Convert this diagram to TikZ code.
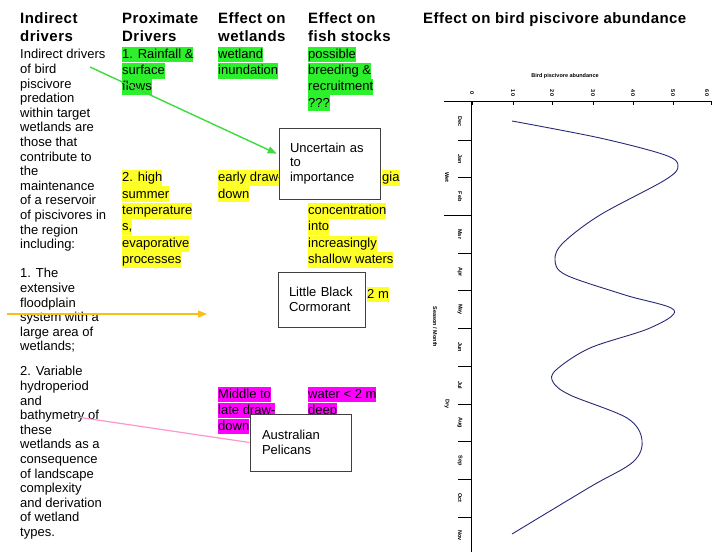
\documentclass[tikz,border=0pt]{standalone}
\usepackage{fontspec}
\setmainfont{Liberation Sans}
\newfontfamily\headfont[LetterSpace=3]{Liberation Sans}
\usetikzlibrary{arrows.meta}

\definecolor{hlgreen}{RGB}{45,240,45}
\definecolor{hlyellow}{RGB}{255,255,40}
\definecolor{hlpink}{RGB}{255,0,255}
\definecolor{arrgreen}{RGB}{60,220,60}
\definecolor{arrorange}{RGB}{250,190,20}
\definecolor{arrpink}{RGB}{255,150,200}
\definecolor{curvecol}{RGB}{40,40,120}

\begin{document}
\begin{tikzpicture}[x=1pt,y=-1pt,
	head/.style={anchor=north west,inner sep=0pt,align=left,font=\headfont\fontsize{15}{18}\selectfont\bfseries},
	txt/.style={anchor=north west,inner sep=0pt,align=left,font=\fontsize{13}{14.6}\selectfont},
	hl/.style={anchor=west,fill=#1,inner xsep=0pt,inner ysep=0.2pt,text height=11.5pt,text depth=4pt,font=\fontsize{13}{14.6}\selectfont},
	bird/.style={draw=black!75,line width=1pt,fill=white,align=left,font=\fontsize{13}{14.6}\selectfont},
	tiny/.style={font=\fontsize{5.5}{6}\selectfont\bfseries,inner sep=0pt}]
	\useasboundingbox (0,0) rectangle (712,552);

	% column heads
	\node[head] (h1) at (20,12) {Indirect\\drivers};
	\node[head] (h2) at (122,12) {Proximate\\Drivers};
	\node[head] (h3) at (218,12) {Effect on\\wetlands};
	\node[head] (h4) at (308,12) {Effect on\\fish stocks};
	\node[head] (h5) at (423,12) {Effect on bird piscivore abundance};

	% indirect drivers
	\node[txt] (ind) at (20,49.2) {Indirect drivers\\of bird\\piscivore\\predation\\within target\\wetlands are\\those that\\contribute to\\the\\maintenance\\of a reservoir\\of piscivores in\\the region\\including:};
	\node[txt] (ind1) at (20,268.2) {1. The\\extensive\\floodplain\\system with a\\large area of\\wetlands;};
	\node[txt] (ind2) at (20,366.2) {2. Variable\\hydroperiod\\and\\bathymetry of\\these\\wetlands as a\\consequence\\of landscape\\complexity\\and derivation\\of wetland\\types.};

	% rainfall
	\foreach \t [count=\i] in {1. Rainfall \&,surface,flows}
		\node[hl=hlgreen] (rain\i) at (122,{54.5+16.3*(\i-1)}) {\t};
	\foreach \t [count=\i] in {wetland,inundation}
		\node[hl=hlgreen] (inun\i) at (218,{54.5+16.3*(\i-1)}) {\t};
	\foreach \t [count=\i] in {possible,breeding \&,recruitment,???}
		\node[hl=hlgreen] (breed\i) at (308,{54.5+16.3*(\i-1)}) {\t};

	% temperature
	\foreach \t [count=\i] in {2. high,summer,temperature,{s,},evaporative,processes}
		\node[hl=hlyellow] (temp\i) at (122,{178+16.4*(\i-1)}) {\t};
	\foreach \t [count=\i] in {early draw-,down}
		\node[hl=hlyellow] (early\i) at (218,{178+16.4*(\i-1)}) {\t};
	\node[hl=hlyellow] (gia) at (382,178) {gia};
	\foreach \t [count=\i] in {concentration,into,increasingly,shallow waters}
		\node[hl=hlyellow] (conc\i) at (308,{210.8+16.4*(\i-1)}) {\t};
	\node[hl=hlyellow] (twom) at (367,294.5) {2 m};

	% late draw-down
	\foreach \t [count=\i] in {Middle to,late draw-,down}
		\node[hl=hlpink] (late\i) at (218,{394.5+16*(\i-1)}) {\t};
	\foreach \t [count=\i] in {water < 2 m,deep}
		\node[hl=hlpink] (deep\i) at (308,{394.5+16*(\i-1)}) {\t};

	% birds
	\node[bird,minimum width=101,minimum height=71,text width=79,inner xsep=11] (unc) at (329.5,163.5) {Uncertain as\\to\\importance};
	\node[bird,minimum width=87,minimum height=55,text width=65,inner xsep=11] (lbc) at (321.5,299.5) {Little Black\\Cormorant};
	\node[bird,minimum width=101,minimum height=57,text width=77,inner xsep=12] (pel) at (300.5,442.5) {Australian\\Pelicans};

	\coordinate (gfrom) at (90,67);
	\coordinate (ofrom) at (7,314);
	\coordinate (oto) at (207,314);
	\coordinate (pfrom) at (77,417);
	\draw[arrgreen,line width=1.4pt,shorten >=2pt,-{Triangle[length=9pt,width=7pt]}] (gfrom) -- (unc.170);
	\draw[arrorange,line width=1.4pt,-{Triangle[length=9pt,width=7pt]}] (ofrom) -- (oto);
	\draw[arrpink,line width=1.2pt] (pfrom) -- (pel.west);

	% abundance chart
	\node[tiny] (ctitle) at (565,76) {Bird piscivore abundance};
	\draw[line width=0.8pt] (444,101) -- (712,101);
	\draw[line width=0.8pt] (471,101) -- (471,552);
	\foreach \x/\v in {472/0,513/10,552/20,593/30,633/40,673/50} {
		\draw[line width=0.6pt] (\x,101) -- (\x,105);
		\node[tiny,rotate=-90] at (\x,93) {\v};
	}
	\draw[line width=0.6pt] (711,101) -- (711,105);
	\node[tiny,rotate=-90] at (707,93) {60};
	\foreach \m [count=\i] in {Dec,Jan,Feb,Mar,Apr,May,Jun,Jul,Aug,Sep,Oct,Nov}
		\node[tiny,rotate=-90] (m\i) at (460,{102.3+37.7*(\i-0.5)}) {\m};
	\foreach \i in {1,2,4,5,6,7,8,9,10,11}
		\draw[line width=0.8pt] (458,{102.3+37.7*\i}) -- (471,{102.3+37.7*\i});
	\draw[line width=0.8pt] (444,{102.3+37.7*3}) -- (471,{102.3+37.7*3});
	\node[tiny,rotate=-90] (wet) at (447,177) {Wet};
	\node[tiny,rotate=-90] (dry) at (447,404) {Dry};
	\node[tiny,rotate=-90] (season) at (435,327) {Season / Month};
	\draw[curvecol,line width=0.9pt] plot[smooth,tension=0.55] coordinates {(512,121) (600,138) (665,155) (678,166) (665,180) (600,215) (563,243) (555,260) (566,275) (625,295) (674,310) (650,328) (590,348) (556,370) (553,382) (570,395) (627,418) (642,440) (633,462) (590,487) (512,534)};
\end{tikzpicture}
\end{document}
